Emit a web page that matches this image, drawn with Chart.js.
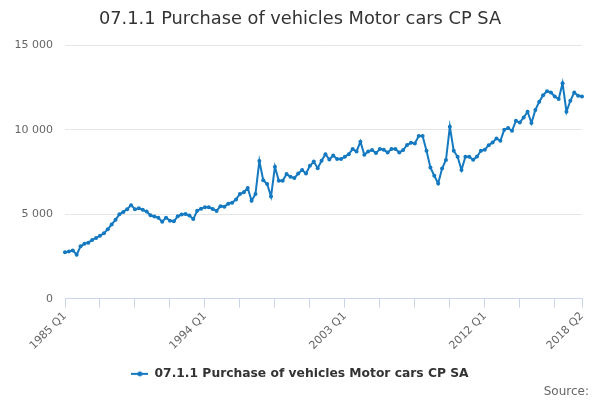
<!DOCTYPE html>
<html>
<head>
<meta charset="utf-8">
<script src="https://cdn.jsdelivr.net/npm/chart.js@4.4.0/dist/chart.umd.min.js"></script>
<style>
  html, body { margin: 0; padding: 0; background: #fff; }
  #wrap { width: 600px; height: 400px; position: relative; }
</style>
</head>
<body>
<div id="wrap"><canvas id="chart"></canvas></div>
<script>
// categories: quarters 1985 Q1 .. 2018 Q2
const firstYear = 1985;
const quarterCount = 134;
const quarters = [];
for (let i = 0; i < quarterCount; i++) {
  quarters.push(firstYear + Math.floor(i / 4) + " Q" + ((i % 4) + 1));
}

// series values
const motorCars = [
  2750, 2800, 2860, 2600, 3100, 3250, 3320, 3480, 3600, 3720,
  3870, 4110, 4400, 4670, 5000, 5140, 5300, 5540, 5300, 5350,
  5260, 5160, 4940, 4860, 4800, 4560, 4800, 4620, 4580, 4880,
  4980, 5010, 4920, 4715, 5210, 5330, 5420, 5410, 5310, 5200,
  5480, 5450, 5620, 5680, 5880, 6200, 6300, 6550, 5800, 6200,
  8150, 7020, 6790, 6050, 7810, 6980, 6980, 7380, 7220, 7140,
  7410, 7620, 7410, 7870, 8120, 7730, 8170, 8560, 8240, 8480,
  8270, 8270, 8400, 8560, 8860, 8720, 9300, 8520, 8720, 8800,
  8620, 8860, 8820, 8660, 8860, 8860, 8660, 8800, 9100, 9230,
  9190, 9630, 9630, 8760, 7770, 7280, 6820, 7710, 8210, 10180,
  8760, 8400, 7620, 8410, 8410, 8220, 8420, 8760, 8820, 9090,
  9250, 9490, 9350, 10000, 10100, 9940, 10530, 10430, 10730, 11070,
  10400, 11180, 11660, 12050, 12290, 12210, 11970, 11820, 12760, 11070,
  11720, 12210, 12010, 11970
];

// tick labels
const xTickLabels = ["1985 Q1", "1994 Q1", "2003 Q1", "2012 Q1", "2018 Q2"];
const yTicks = [0, 5000, 10000, 15000];

const seriesName = "07.1.1 Purchase of vehicles Motor cars CP SA";
const lineColor = "#1479c0";

Chart.defaults.font.family = "'DejaVu Sans', sans-serif";

// legend marker: short line with a dot
let marker = document.createElement("canvas");
marker.width = 17;
marker.height = 8;
let mctx = marker.getContext("2d");
mctx.strokeStyle = lineColor;
mctx.lineWidth = 2;
mctx.beginPath();
mctx.moveTo(0, 4);
mctx.lineTo(17, 4);
mctx.stroke();
mctx.fillStyle = lineColor;
mctx.beginPath();
mctx.arc(8.5, 4, 2.5, 0, Math.PI * 2);
mctx.fill();

function spaced(v) {
  return String(v).replace(/\B(?=(\d{3})+(?!\d))/g, " ");
}

// "Source:" credit text
const sourcePlugin = {
  id: "sourceText",
  afterDraw(chart) {
    let ctx = chart.ctx;
    ctx.save();
    ctx.font = "12px 'DejaVu Sans', sans-serif";
    ctx.fillStyle = "#666666";
    ctx.textAlign = "right";
    ctx.textBaseline = "alphabetic";
    ctx.fillText("Source:", 589, 395);
    ctx.restore();
  }
};

const lastIndex = quarterCount - 1;

new Chart(document.getElementById("chart"), {
  type: "line",
  data: {
    labels: quarters,
    datasets: [
      {
        label: seriesName,
        data: motorCars,
        borderColor: lineColor,
        backgroundColor: lineColor,
        borderWidth: 2,
        pointRadius: 2,
        pointHoverRadius: 3,
        pointBorderWidth: 0,
        tension: 0
      }
    ]
  },
  options: {
    responsive: true,
    maintainAspectRatio: false,
    animation: false,
    layout: {
      padding: { left: 0, right: 0, top: 0, bottom: 10 }
    },
    scales: {
      x: {
        type: "category",
        offset: false,
        afterBuildTicks: (axis) => {
          axis.ticks = axis.ticks.filter((t) => t.value % 9 === 0 || t.value === lastIndex);
        },
        afterFit: (axis) => {
          axis.height = 61;
        },
        ticks: {
          autoSkip: false,
          minRotation: 45,
          maxRotation: 45,
          padding: 2,
          color: "#666666",
          font: { size: 11 },
          callback: function (value) {
            let lab = this.getLabelForValue(value);
            return xTickLabels.includes(lab) ? lab : "";
          }
        },
        grid: {
          display: true,
          drawOnChartArea: false,
          drawTicks: true,
          tickLength: 9,
          color: "#ccd6eb"
        },
        border: { display: true, color: "#ccd6eb", width: 1 }
      },
      y: {
        min: 0,
        max: 15000,
        afterBuildTicks: (axis) => {
          axis.ticks = yTicks.map((v) => ({ value: v }));
        },
        afterFit: (axis) => {
          axis.width = 65;
        },
        ticks: {
          padding: 12,
          color: "#666666",
          font: { size: 11 },
          callback: (v) => spaced(v)
        },
        grid: {
          drawTicks: false,
          color: (c) => (c.tick && c.tick.value === 0 ? "rgba(0,0,0,0)" : "#e6e6e6")
        },
        border: { display: false }
      },
      // empty right-hand spacer so the title stays centred on the page
      spacer: {
        type: "linear",
        position: "right",
        display: true,
        afterFit: (axis) => {
          axis.width = 18;
        },
        ticks: { display: false },
        grid: { display: false },
        border: { display: false }
      }
    },
    plugins: {
      title: {
        display: true,
        text: seriesName,
        color: "#333333",
        font: { size: 17.8, weight: "normal" },
        padding: { top: 9, bottom: 15 }
      },
      legend: {
        display: true,
        position: "bottom",
        labels: {
          usePointStyle: true,
          pointStyle: marker,
          pointStyleWidth: 17,
          color: "#333333",
          padding: 8,
          font: { size: 12.3, weight: "bold" }
        }
      },
      tooltip: { enabled: false }
    }
  },
  plugins: [sourcePlugin]
});
</script>
</body>
</html>
